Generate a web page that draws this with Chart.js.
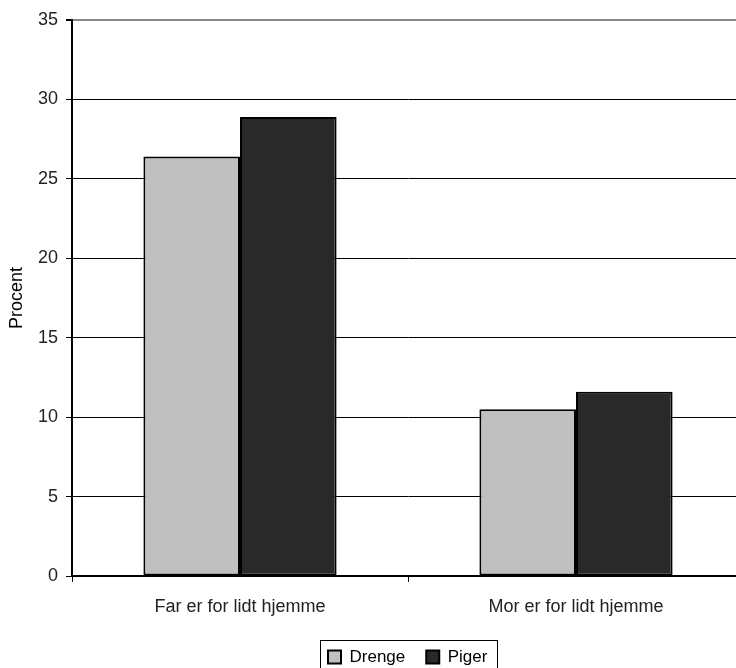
<!DOCTYPE html>
<html>
<head>
<meta charset="utf-8">
<script src="https://cdn.jsdelivr.net/npm/chart.js@4"></script>
<style>
  html, body { margin: 0; padding: 0; background: #fff; overflow: hidden; }
  #myChart { display: block; }
</style>
</head>
<body>
<canvas id="myChart" width="816" height="668"></canvas>
<script>
"use strict";
const categories = ["Far er for lidt hjemme", "Mor er for lidt hjemme"];
const drenge = [26.4, 10.5];
const piger = [28.9, 11.6];
const yTicks = [0, 5, 10, 15, 20, 25, 30, 35];

const font = "'Liberation Sans', Arial, sans-serif";

// legend sits centred under the plot, with a frame round its items
const legendFrame = {
  id: "legendFrame",
  afterUpdate(chart) {
    const lg = chart.legend;
    const pad = lg.options.labels.padding;
    const x0 = (lg.left + pad + lg.right - lg.lineWidths[0]) / 2;
    const dx = 328 - x0;
    const dy = 7.5;
    lg.left += dx;
    lg.right += dx;
    lg.top += dy;
    lg.bottom += dy;
    lg.legendHitBoxes.forEach((h) => {
      h.left += dx;
      h.top += dy;
    });
  },
  afterDraw(chart) {
    const lg = chart.legend;
    const pad = lg.options.labels.padding;
    const x0 = (lg.left + pad + lg.right - lg.lineWidths[0]) / 2;
    const itemTop = lg.top + pad;
    const ctx = chart.ctx;
    ctx.save();
    ctx.strokeStyle = "#000";
    ctx.lineWidth = 1;
    ctx.strokeRect(Math.round(x0 - 8) + 0.5, Math.round(itemTop - 9) + 0.5,
      Math.round(lg.lineWidths[0] - pad + 18), 40);
    ctx.restore();
  },
};

const ctx = document.getElementById("myChart").getContext("2d");
new Chart(ctx, {
  type: "bar",
  data: {
    labels: categories,
    datasets: [
      {
        label: "Drenge",
        data: drenge,
        backgroundColor: "#c0c0c0",
        borderColor: "#000",
        borderWidth: 2,
        borderSkipped: false,
      },
      {
        label: "Piger",
        data: piger,
        backgroundColor: "#292929",
        borderColor: "#000",
        borderWidth: 2,
        borderSkipped: false,
      },
    ],
  },
  options: {
    responsive: false,
    animation: false,
    layout: { padding: { top: 20, right: 72, left: 0, bottom: 0 } },
    datasets: {
      bar: { categoryPercentage: 0.575, barPercentage: 1 },
    },
    plugins: {
      tooltip: { enabled: false },
      legend: {
        position: "bottom",
        labels: {
          color: "#000",
          font: { family: font, size: 17 },
          boxWidth: 13,
          boxHeight: 13,
          padding: 21,
        },
      },
    },
    scales: {
      x: {
        offset: true,
        afterFit: (scale) => { scale.height = 44; },
        border: { color: "#000", width: 2 },
        grid: {
          offset: true,
          drawOnChartArea: false,
          color: "#000",
          tickLength: 6,
        },
        ticks: {
          color: "#222",
          font: { family: font, size: 18 },
          padding: 14,
          maxRotation: 0,
        },
      },
      y: {
        min: 0,
        max: 35,
        afterFit: (scale) => { scale.width = 72; },
        afterBuildTicks: (scale) => {
          scale.ticks = yTicks.map((v) => ({ value: v }));
        },
        border: { color: "#000", width: 2 },
        grid: {
          color: (c) => (c.tick && c.tick.value === 35 ? "#8a8a8a" : "#000"),
          lineWidth: (c) => (c.tick && c.tick.value === 35 ? 2 : 1),
          tickColor: "#000",
          tickLength: 6,
        },
        ticks: {
          color: "#222",
          font: { family: font, size: 18 },
          padding: 8,
        },
        title: {
          display: true,
          text: "Procent",
          color: "#000",
          font: { family: font, size: 18 },
          padding: { top: 6, bottom: 0 },
        },
      },
    },
  },
  plugins: [legendFrame],
});
</script>
</body>
</html>
